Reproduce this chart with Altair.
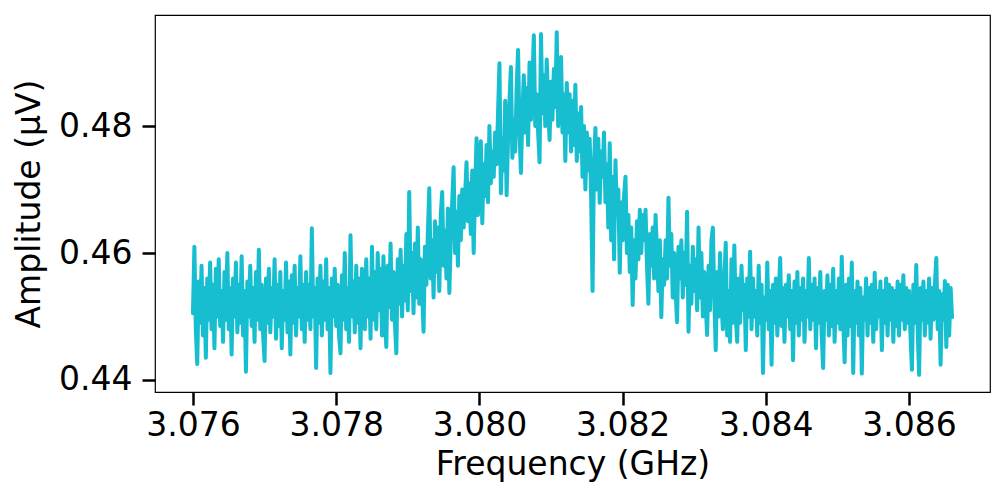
import altair as alt
import numpy as np
import pandas as pd

# frequency sweep (GHz): evenly spaced from start to stop
f_start = 3.076
f_stop = 3.0866

# amplitude (uV), left to right
left_flank = [
    0.4505, 0.4610, 0.4480, 0.4425, 0.4555, 0.4490, 0.4580, 0.4470, 0.4545, 0.4435,
    0.4560, 0.4495, 0.4585, 0.4480, 0.4550, 0.4450, 0.4575, 0.4500, 0.4590, 0.4485,
    0.4540, 0.4460, 0.4570, 0.4495, 0.4600, 0.4480, 0.4545, 0.4440, 0.4560, 0.4500,
    0.4585, 0.4475, 0.4550, 0.4490, 0.4595, 0.4470, 0.4540, 0.4413, 0.4555, 0.4500,
    0.4580, 0.4485, 0.4545, 0.4460, 0.4570, 0.4495, 0.4605, 0.4480, 0.4550, 0.4470,
    0.4430, 0.4560, 0.4490, 0.4575, 0.4475, 0.4545, 0.4500, 0.4590, 0.4465, 0.4550,
    0.4485, 0.4570, 0.4450, 0.4540, 0.4495, 0.4585, 0.4475, 0.4555, 0.4440, 0.4565,
    0.4490, 0.4580, 0.4470, 0.4545, 0.4500, 0.4595, 0.4480, 0.4550, 0.4460, 0.4570,
    0.4495, 0.4550, 0.4480, 0.4639, 0.4500, 0.4545, 0.4419, 0.4560, 0.4490, 0.4580,
    0.4470, 0.4555, 0.4495, 0.4590, 0.4480, 0.4545, 0.4411, 0.4560, 0.4500, 0.4575,
    0.4485, 0.4550, 0.4470, 0.4442, 0.4565, 0.4495, 0.4600, 0.4480, 0.4545, 0.4460,
    0.4628, 0.4500, 0.4555, 0.4475, 0.4580, 0.4490, 0.4560, 0.4450, 0.4575, 0.4505,
]
rise = [
    0.4480, 0.4590, 0.4500, 0.4560, 0.4465, 0.4610, 0.4495, 0.4570, 0.4480, 0.4600,
    0.4510, 0.4575, 0.4470, 0.4595, 0.4500, 0.4452, 0.4580, 0.4515, 0.4615, 0.4495,
    0.4570, 0.4490, 0.4442, 0.4590, 0.4520, 0.4605, 0.4500, 0.4580, 0.4525, 0.4630,
    0.4510, 0.4696, 0.4540, 0.4600, 0.4505, 0.4615, 0.4530, 0.4640, 0.4520, 0.4590,
    0.4540, 0.4476, 0.4610, 0.4550, 0.4630, 0.4702, 0.4560, 0.4620, 0.4530, 0.4650,
    0.4570, 0.4640, 0.4540, 0.4660, 0.4696, 0.4580, 0.4635, 0.4560, 0.4670, 0.4537,
    0.4620, 0.4680, 0.4735, 0.4600, 0.4665, 0.4580, 0.4690, 0.4620, 0.4700, 0.4640,
    0.4690, 0.4743, 0.4650, 0.4710, 0.4630, 0.4730, 0.4600, 0.4700, 0.4781, 0.4660,
    0.4720, 0.4776, 0.4647, 0.4740, 0.4690, 0.4770, 0.4680, 0.4800, 0.4710, 0.4760,
    0.4720, 0.4790, 0.4740, 0.4820, 0.4899, 0.4694, 0.4780, 0.4730, 0.4840, 0.4691,
    0.4780, 0.4840, 0.4893, 0.4750, 0.4810, 0.4760, 0.4860, 0.4920, 0.4790, 0.4726,
    0.4820, 0.4880, 0.4790, 0.4860, 0.4770, 0.4900, 0.4810, 0.4870, 0.4943, 0.4800,
]
peak = [
    0.4850, 0.4790, 0.4743, 0.4945, 0.4820, 0.4880, 0.4800, 0.4905, 0.4830, 0.4778,
    0.4870, 0.4810, 0.4890, 0.4830, 0.4948, 0.4800, 0.4860, 0.4909, 0.4790, 0.4850,
    0.4745, 0.4868, 0.4790, 0.4850, 0.4760, 0.4840, 0.4770, 0.4865, 0.4745, 0.4820,
    0.4760, 0.4830, 0.4720, 0.4800, 0.4700, 0.4790, 0.4730, 0.4780, 0.4690, 0.4540,
    0.4740, 0.4797, 0.4700, 0.4780, 0.4679, 0.4760, 0.4720, 0.4790, 0.4680, 0.4740,
    0.4640, 0.4773, 0.4620, 0.4720, 0.4590, 0.4746, 0.4660, 0.4700, 0.4569, 0.4680,
    0.4620, 0.4690, 0.4720, 0.4600, 0.4660, 0.4570, 0.4640, 0.4518, 0.4620, 0.4560,
    0.4650, 0.4590, 0.4668, 0.4600, 0.4660, 0.4620, 0.4668, 0.4580, 0.4520, 0.4630,
]
fall = [
    0.4580, 0.4640, 0.4560, 0.4660, 0.4600, 0.4540, 0.4620, 0.4499, 0.4590, 0.4550,
    0.4620, 0.4560, 0.4687, 0.4580, 0.4630, 0.4530, 0.4600, 0.4540, 0.4491, 0.4610,
    0.4560, 0.4620, 0.4530, 0.4600, 0.4550, 0.4665, 0.4476, 0.4580, 0.4520, 0.4610,
    0.4540, 0.4590, 0.4510, 0.4640, 0.4530, 0.4600, 0.4500, 0.4570, 0.4520, 0.4471,
    0.4580, 0.4510, 0.4620, 0.4640, 0.4530, 0.4447, 0.4570, 0.4500, 0.4600, 0.4520,
    0.4480, 0.4560, 0.4616, 0.4470, 0.4540, 0.4460, 0.4590, 0.4490, 0.4612, 0.4500,
    0.4460, 0.4560, 0.4490, 0.4580, 0.4510, 0.4550, 0.4447, 0.4560, 0.4500, 0.4602,
    0.4480, 0.4560, 0.4500, 0.4540, 0.4470, 0.4580, 0.4490, 0.4550, 0.4411, 0.4530,
]
right_flank = [
    0.4495, 0.4585, 0.4480, 0.4540, 0.4424, 0.4550, 0.4490, 0.4560, 0.4470, 0.4535,
    0.4592, 0.4485, 0.4545, 0.4460, 0.4550, 0.4500, 0.4565, 0.4480, 0.4540, 0.4431,
    0.4555, 0.4490, 0.4570, 0.4470, 0.4545, 0.4495, 0.4560, 0.4460, 0.4540, 0.4500,
    0.4592, 0.4480, 0.4550, 0.4495, 0.4560, 0.4450, 0.4545, 0.4490, 0.4570, 0.4470,
    0.4419, 0.4540, 0.4495, 0.4565, 0.4470, 0.4550, 0.4485, 0.4575, 0.4460, 0.4540,
    0.4490, 0.4560, 0.4480, 0.4594, 0.4495, 0.4428, 0.4550, 0.4470, 0.4560, 0.4485,
    0.4585, 0.4411, 0.4540, 0.4490, 0.4555, 0.4470, 0.4545, 0.4410, 0.4530, 0.4495,
    0.4560, 0.4470, 0.4545, 0.4490, 0.4550, 0.4460, 0.4569, 0.4480, 0.4540, 0.4500,
    0.4555, 0.4447, 0.4540, 0.4490, 0.4560, 0.4470, 0.4550, 0.4495, 0.4545, 0.4460,
    0.4540, 0.4485, 0.4555, 0.4470, 0.4550, 0.4495, 0.4565, 0.4480, 0.4545, 0.4490,
    0.4540, 0.4470, 0.4416, 0.4550, 0.4490, 0.4581, 0.4480, 0.4408, 0.4545, 0.4495,
    0.4555, 0.4470, 0.4540, 0.4490, 0.4560, 0.4465, 0.4545, 0.4495, 0.4550, 0.4592,
    0.4480, 0.4540, 0.4424, 0.4535, 0.4495, 0.4556, 0.4452, 0.4550, 0.4470, 0.4545,
    0.4499,
]

x_ticks = [3.076, 3.078, 3.080, 3.082, 3.084, 3.086]
y_ticks = [0.44, 0.46, 0.48]

amp = left_flank + rise + peak + fall + right_flank
df = pd.DataFrame({
    "freq": np.linspace(f_start, f_stop, len(amp)),
    "amp": amp,
})

chart = alt.Chart(df).mark_line(color="#17becf", strokeWidth=4, strokeJoin="round", strokeCap="round").encode(
    x=alt.X("freq:Q", title="Frequency (GHz)",
            scale=alt.Scale(domain=[3.07547, 3.08713], nice=False, zero=False),
            axis=alt.Axis(values=x_ticks, format=".3f", labelPadding=4, titlePadding=6)),
    y=alt.Y("amp:Q", title="Amplitude (μV)",
            scale=alt.Scale(domain=[0.4381, 0.4975], nice=False, zero=False),
            axis=alt.Axis(values=y_ticks, format=".2f", labelPadding=10, titlePadding=12)),
).properties(
    width=835, height=377,
    autosize=alt.AutoSizeParams(type="none"),
    padding={"left": 147, "top": 7, "right": 2, "bottom": 100},
).configure_view(
    stroke="black", strokeWidth=1.2
).configure_axis(
    grid=False, domain=False,
    tickSize=13, tickWidth=2.5, tickColor="black",
    labelFont="DejaVu Sans", labelFontSize=33, labelColor="black",
    titleFont="DejaVu Sans", titleFontSize=33, titleFontWeight="normal", titleColor="black",
)

chart.save("out.html", embed_options={"renderer": "svg", "actions": False})
